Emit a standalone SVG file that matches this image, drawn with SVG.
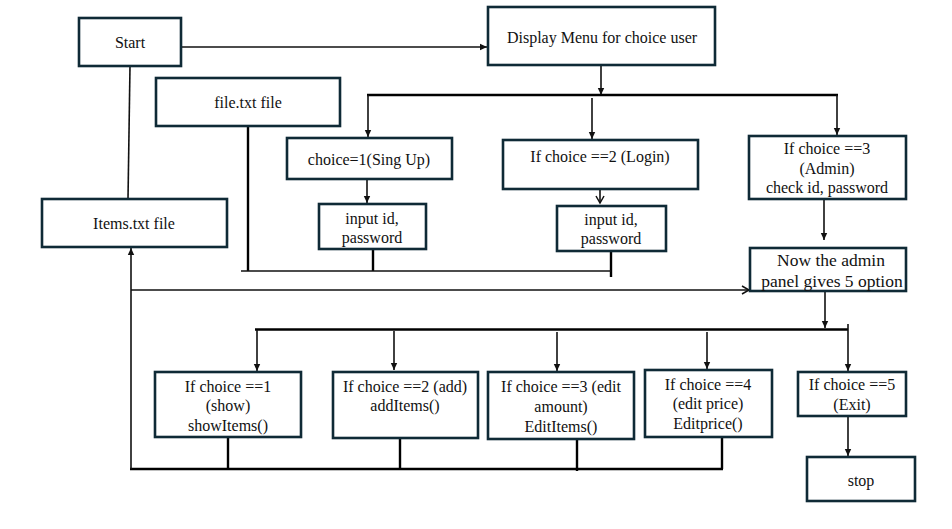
<svg xmlns="http://www.w3.org/2000/svg" width="952" height="529" viewBox="0 0 952 529">
  <style>
    .box { fill: #ffffff; stroke: #0f2a36; stroke-width: 2.6; }
    .ln { fill: none; stroke: #111111; stroke-width: 1.6; }
    .lnb { fill: none; stroke: #000000; stroke-width: 2.4; }
    text { font-size: 16px; fill: #111111; text-anchor: middle; }
    .big { font-size: 17.5px; }
  </style>
  <defs>
    <marker id="arr" markerWidth="8" markerHeight="8" refX="7" refY="4" orient="auto" markerUnits="userSpaceOnUse">
      <path d="M0,0.8 L7,4 L0,7.2 Z" fill="#111111"/>
    </marker>
    <marker id="open" markerWidth="10" markerHeight="10" refX="8" refY="5" orient="auto" markerUnits="userSpaceOnUse">
      <path d="M1,1 L8,5 L1,9" fill="none" stroke="#111111" stroke-width="1.5"/>
    </marker>
  </defs>

  <rect width="952" height="529" fill="#ffffff"/>

  <g id="connectors">
    <!-- Start to menu -->
    <line class="ln" x1="181" y1="47" x2="487" y2="47" marker-end="url(#arr)"/>
    <!-- Start down to Items file -->
    <line class="ln" x1="130" y1="66" x2="128" y2="199"/>
    <!-- menu split -->
    <line class="ln" x1="601" y1="66" x2="601" y2="95" marker-end="url(#arr)"/>
    <line class="lnb" x1="367" y1="95" x2="838" y2="95"/>
    <line class="ln" x1="368" y1="95" x2="368" y2="137" marker-end="url(#arr)"/>
    <line class="ln" x1="592" y1="98" x2="592" y2="139" marker-end="url(#arr)"/>
    <line class="ln" x1="837" y1="95" x2="837" y2="135" marker-end="url(#arr)"/>
    <!-- choice boxes to input boxes -->
    <line class="ln" x1="367" y1="179" x2="367" y2="203" marker-end="url(#arr)"/>
    <line class="ln" x1="600" y1="189" x2="600" y2="203" marker-end="url(#open)"/>
    <!-- file.txt collector -->
    <line class="lnb" x1="248" y1="126" x2="248" y2="271"/>
    <line class="lnb" x1="373" y1="249" x2="373" y2="271"/>
    <line class="lnb" x1="611" y1="251" x2="611" y2="277"/>
    <line class="ln" x1="241" y1="271" x2="611" y2="271"/>
    <!-- admin chain -->
    <line class="ln" x1="824" y1="199" x2="824" y2="240" marker-end="url(#arr)"/>
    <line class="ln" x1="131" y1="290" x2="749" y2="290" marker-end="url(#open)"/>
    <line class="ln" x1="825" y1="291" x2="825" y2="328" marker-end="url(#arr)"/>
    <!-- option split -->
    <line class="lnb" x1="255" y1="329.5" x2="848" y2="329.5"/>
    <line class="ln" x1="848" y1="324" x2="848" y2="330"/>
    <line class="ln" x1="257" y1="330" x2="257" y2="371" marker-end="url(#arr)"/>
    <line class="ln" x1="394" y1="331" x2="394" y2="370" marker-end="url(#arr)"/>
    <line class="ln" x1="557" y1="332" x2="557" y2="371" marker-end="url(#arr)"/>
    <line class="ln" x1="707" y1="332" x2="707" y2="369" marker-end="url(#arr)"/>
    <line class="ln" x1="848" y1="330" x2="848" y2="371" marker-end="url(#arr)"/>
    <line class="ln" x1="848" y1="416" x2="848" y2="456" marker-end="url(#arr)"/>
    <!-- option results back to Items file -->
    <line class="lnb" x1="228" y1="437" x2="228" y2="469"/>
    <line class="lnb" x1="400" y1="438" x2="400" y2="469"/>
    <line class="lnb" x1="577" y1="439" x2="577" y2="471"/>
    <line class="lnb" x1="722" y1="437" x2="722" y2="469"/>
    <line class="lnb" x1="130" y1="469" x2="723" y2="469"/>
    <line class="ln" x1="131" y1="469" x2="131" y2="248" marker-end="url(#arr)"/>
  </g>

  <g id="nodes" font-family="'Liberation Serif', 'Times New Roman', serif">
    <g id="start">
      <rect class="box" x="79" y="18" width="102" height="48"/>
      <text x="130" y="47.5">Start</text>
    </g>
    <g id="menu">
      <rect class="box" x="488" y="7" width="227" height="58"/>
      <text x="602" y="42.5">Display Menu for choice user</text>
    </g>
    <g id="file-txt">
      <rect class="box" x="156" y="78" width="184" height="48"/>
      <text x="248" y="107.5">file.txt file</text>
    </g>
    <g id="items-txt">
      <rect class="box" x="42" y="199" width="185" height="48"/>
      <text x="134" y="228.5">Items.txt file</text>
    </g>
    <g id="signup">
      <rect class="box" x="287" y="138" width="165" height="41"/>
      <text x="369" y="164.5">choice=1(Sing Up)</text>
    </g>
    <g id="signup-input">
      <rect class="box" x="319" y="204" width="107" height="45"/>
      <text x="372" y="223.5">input id,</text>
      <text x="372" y="242.5">password</text>
    </g>
    <g id="login">
      <rect class="box" x="503" y="140" width="195" height="49"/>
      <text x="600" y="161.5">If choice ==2 (Login)</text>
    </g>
    <g id="login-input">
      <rect class="box" x="557" y="206" width="109" height="45"/>
      <text x="611" y="224.5">input id,</text>
      <text x="611" y="243.5">password</text>
    </g>
    <g id="admin">
      <rect class="box" x="749" y="136" width="157" height="63"/>
      <text x="827" y="153.5">If choice ==3</text>
      <text x="827" y="173.5">(Admin)</text>
      <text x="827" y="192.5">check id, password</text>
    </g>
    <g id="admin-panel">
      <rect class="box" x="750" y="248" width="156" height="43"/>
      <text class="big" x="831" y="266">Now the admin</text>
      <text class="big" x="832" y="287">panel gives 5 option</text>
    </g>
    <g id="opt-show">
      <rect class="box" x="155" y="372" width="146" height="65"/>
      <text x="228" y="391.5">If choice ==1</text>
      <text x="228" y="410.5">(show)</text>
      <text x="228" y="430.5">showItems()</text>
    </g>
    <g id="opt-add">
      <rect class="box" x="333" y="372" width="145" height="66"/>
      <text x="405" y="391.5">If choice ==2 (add)</text>
      <text x="405" y="410.5">addItems()</text>
    </g>
    <g id="opt-edit-amount">
      <rect class="box" x="488" y="372" width="146" height="67"/>
      <text x="561" y="391.5">If choice ==3 (edit</text>
      <text x="561" y="411.5">amount)</text>
      <text x="561" y="431.5">EditItems()</text>
    </g>
    <g id="opt-edit-price">
      <rect class="box" x="645" y="370" width="127" height="67"/>
      <text x="708" y="389.5">If choice ==4</text>
      <text x="708" y="408.5">(edit price)</text>
      <text x="708" y="428.5">Editprice()</text>
    </g>
    <g id="opt-exit">
      <rect class="box" x="798" y="372" width="108" height="44"/>
      <text x="852" y="389.5">If choice ==5</text>
      <text x="852" y="409.5">(Exit)</text>
    </g>
    <g id="stop">
      <rect class="box" x="807" y="457" width="108" height="44"/>
      <text x="861" y="485.5">stop</text>
    </g>
  </g>
</svg>
